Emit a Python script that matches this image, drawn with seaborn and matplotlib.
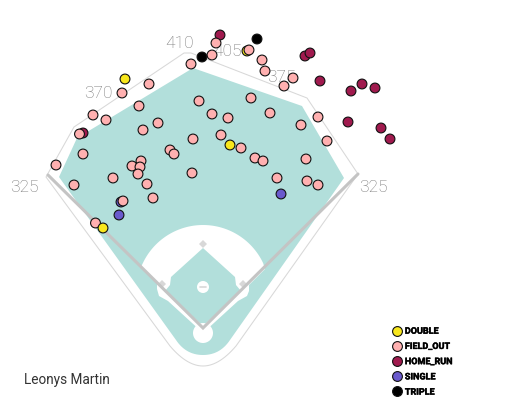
import numpy as np
import pandas as pd
import matplotlib
matplotlib.use("Agg")
import matplotlib.pyplot as plt
import matplotlib.patheffects as pe
from matplotlib.patches import Polygon, Circle
import seaborn as sns

# hit locations in chart units, in drawing order
home_run_x = [83, 220, 305, 310, 320, 351, 362, 375, 348, 381, 390]
home_run_y = [133, 35, 56, 53, 81, 91, 84, 88, 122, 128, 139]
single_x = [281, 119, 121]
single_y = [194, 215, 202]
double_x = [125, 230, 247, 103]
double_y = [79, 145, 51, 228]
field_out_x = [56, 74, 83, 79.5, 93, 106, 122, 149, 139, 143, 158, 191, 199, 193, 170, 174, 192,
               141, 132, 140, 138, 113, 147, 153, 123, 95.5, 216, 212, 249, 262, 265, 293, 284,
               251, 212, 228, 270, 318, 301, 221, 241, 255, 263, 306, 327, 277, 307, 318]
field_out_y = [165, 185, 154, 134, 115, 120, 93, 84, 106, 130, 123, 64, 101, 139, 150, 154, 173,
               161, 166, 167, 174, 178, 184, 198, 201, 223, 43, 55, 50, 60, 71, 78, 86,
               98, 114, 118, 113, 117, 125, 135, 148, 158, 161, 159, 141, 178, 181, 185]
triple_x = [202, 257]
triple_y = [57, 39]

event_order = ["DOUBLE", "FIELD_OUT", "HOME_RUN", "SINGLE", "TRIPLE"]
event_colors = ["#F8E71C", "#FFB0B0", "#A01A4E", "#6A5ACD", "#000000"]

player = "Leonys Martin"
dist_labels = ["410", "405", "370", "375", "325", "325"]
dist_x = [179, 227, 98, 281, 24, 373]
dist_y = [43, 52, 93, 77, 188, 187]

def frame(name, xs, ys):
    return pd.DataFrame({"x": xs, "y": ys, "event": name})

# the last double sits on top of the field outs
hits = pd.concat([
    frame("HOME_RUN", home_run_x, home_run_y),
    frame("SINGLE", single_x, single_y),
    frame("DOUBLE", double_x[:3], double_y[:3]),
    frame("FIELD_OUT", field_out_x, field_out_y),
    frame("TRIPLE", triple_x, triple_y),
    frame("DOUBLE", double_x[3:], double_y[3:]),
], ignore_index=True)

sns.set_theme(style="white")
plt.rcParams["font.family"] = ["Roboto", "DejaVu Sans"]

fig = plt.figure(figsize=(5.26, 4.04), dpi=100)
ax = fig.add_axes([0, 0, 1, 1])
ax.set_xlim(0, 526)
ax.set_ylim(404, 0)
ax.set_axis_off()

TEAL = "#B2DFDB"
WALL = "#D8D8D8"

def bezier(p0, p1, p2, n=16):
    t = np.linspace(0, 1, n)[:, None]
    p0, p1, p2 = map(np.array, (p0, p1, p2))
    return (1 - t) ** 2 * p0 + 2 * t * (1 - t) * p1 + t ** 2 * p2

# grass / outfield
grass_top = [(344, 178), (302, 106), (193, 68), (77, 138), (59, 177)]
grass_bottom = np.vstack([
    [(176, 340)],
    bezier((176, 340), (186, 355), (203, 355)),
    bezier((203, 355), (220, 355), (230, 340)),
])
ax.add_patch(Polygon(np.vstack([grass_top, grass_bottom]), closed=True, fc=TEAL, ec="none", zorder=1))

# outer wall
wall_top = [(358, 174), (307, 98), (191, 53), (184, 53), (74, 127), (46, 177)]
wall_bottom = np.vstack([
    [(170, 346)],
    bezier((170, 346), (187, 366), (203, 366)),
    bezier((203, 366), (219, 366), (236, 346)),
    [(358, 174)],
])
wall = np.vstack([wall_top, wall_bottom])
ax.plot(wall[:, 0], wall[:, 1], color=WALL, lw=0.75, zorder=1.5)

# infield dirt
theta = np.linspace(np.pi + 0.44, 2 * np.pi - 0.44, 60)
arc = np.c_[203 + 66.5 * np.cos(theta), 291.5 + 66.5 * np.sin(theta)]
dirt = np.vstack([
    [(203, 333), (168, 301), (159, 296), (157, 289), (157, 284), (141, 267)],
    arc,
    [(265, 269), (249, 285), (249, 291), (247, 296), (238, 301)],
])
ax.add_patch(Polygon(dirt, closed=True, fc="white", ec="none", zorder=2))

# infield grass
infield = [(203, 248), (171, 277), (170, 285), (165, 291), (203, 326), (241, 291), (236, 285), (235, 277)]
ax.add_patch(Polygon(infield, closed=True, fc=TEAL, ec="none", zorder=3))

# mound, home plate
ax.add_patch(Circle((203, 287), 6, fc="white", ec="none", zorder=4))
ax.plot([200, 206], [287, 287], color=WALL, lw=1.2, zorder=5)
ax.add_patch(Circle((203, 333), 10, fc="white", ec="none", zorder=3))

# bases
for bx, by in [(203, 244), (162, 284), (243, 284)]:
    ax.add_patch(Polygon([(bx, by - 4), (bx + 4, by), (bx, by + 4), (bx - 4, by)],
                         closed=True, fc=WALL, ec="none", zorder=4))

# foul lines
ax.plot([48, 203, 358], [175, 328, 174], color="#C4C4C4", lw=2.2, solid_joinstyle="miter", zorder=5)

# distance labels
for s, tx, ty in zip(dist_labels, dist_x, dist_y):
    ax.text(tx, ty, s, ha="center", va="center", fontsize=12.5, color="#777777",
            fontweight="light", zorder=6)

sns.scatterplot(data=hits, x="x", y="y", hue="event", hue_order=event_order,
                palette=dict(zip(event_order, event_colors)), s=50,
                edgecolor="#111111", linewidth=0.8, ax=ax, zorder=7, clip_on=False)
ax.set_xlabel("")
ax.set_ylabel("")

leg = ax.legend(loc="upper left", bbox_to_anchor=(385, 324), bbox_transform=ax.transData,
                frameon=False, fontsize=6.5, labelspacing=0.69, handletextpad=-0.1,
                borderpad=0.3, borderaxespad=0, title=None)
for t in leg.get_texts():
    t.set_fontweight("bold")
    t.set_color("black")
    t.set_path_effects([pe.withStroke(linewidth=0.3, foreground="black")])

ax.text(24, 380, player, ha="left", va="center", fontsize=9.8, color="#333333")

fig.savefig("out.png", dpi=100)
